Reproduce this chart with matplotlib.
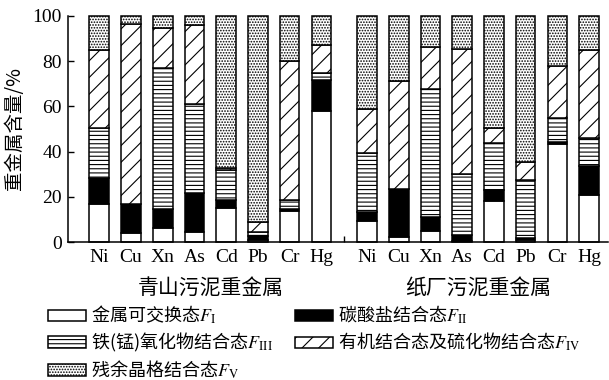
import numpy as np
import matplotlib.pyplot as plt

plt.rcParams['mathtext.fontset'] = 'stix'
plt.rcParams['hatch.linewidth'] = 0.8

cjk = ['Noto Sans CJK SC', 'DejaVu Sans']
serif = ['Liberation Serif', 'DejaVu Serif']

metals = ['Ni', 'Cu', 'Xn', 'As', 'Cd', 'Pb', 'Cr', 'Hg']
group_names = ['青山污泥重金属', '纸厂污泥重金属']

# 青山污泥 (%), F1..F5
qs_f1 = [17.0, 4.0, 6.2, 4.4, 15.1, 1.0, 14.0, 58.0]
qs_f2 = [11.2, 13.0, 8.4, 17.2, 3.6, 1.8, 0.6, 13.6]
qs_f3 = [22.4, 0.0, 62.4, 39.3, 13.2, 1.6, 4.1, 3.3]
qs_f4 = [34.3, 79.3, 17.4, 35.0, 1.1, 4.7, 61.3, 12.1]
qs_f5 = [15.1, 3.7, 5.6, 4.1, 67.0, 90.9, 20.0, 13.0]

# 纸厂污泥 (%), F1..F5
zc_f1 = [9.6, 2.2, 5.1, 0.5, 18.2, 1.0, 43.4, 20.9]
zc_f2 = [3.9, 21.2, 5.9, 2.7, 4.9, 1.0, 1.0, 12.8]
zc_f3 = [26.1, 0.0, 56.5, 26.8, 20.9, 25.5, 10.5, 12.2]
zc_f4 = [19.1, 47.8, 18.8, 55.3, 6.6, 7.8, 22.9, 39.0]
zc_f5 = [41.3, 28.8, 13.7, 14.7, 49.4, 64.7, 22.2, 15.1]

labels = ['金属可交换态$F_{\\mathrm{I}}$',
          '碳酸盐结合态$F_{\\mathrm{II}}$',
          '铁(锰)氧化物结合态$F_{\\mathrm{III}}$',
          '有机结合态及硫化物结合态$F_{\\mathrm{IV}}$',
          '残余晶格结合态$F_{\\mathrm{V}}$']
faces = ['white', 'black', 'white', 'white', 'white']
hatches = [None, None, '----', '//', '......']

fig = plt.figure(figsize=(6.09, 3.8), dpi=100)
ax = fig.add_axes([0.111, 0.3624, 0.887, 0.5963])

gap = 1.44
pos_qs = np.arange(8)
pos_zc = np.arange(8) + 7 + gap

handles = []
for pos, series in [(pos_qs, [qs_f1, qs_f2, qs_f3, qs_f4, qs_f5]),
                    (pos_zc, [zc_f1, zc_f2, zc_f3, zc_f4, zc_f5])]:
    bottom = np.zeros(8)
    hs = []
    for vals, fc, h, lab in zip(series, faces, hatches, labels):
        b = ax.bar(pos, vals, bottom=bottom, width=0.62, facecolor=fc,
                   edgecolor='black', hatch=h, linewidth=1.1, clip_on=False,
                   label=lab)
        hs.append(b)
        bottom = bottom + np.array(vals)
    handles = hs

ax.set_xlim(-1.0, pos_zc[-1] + 0.59)
ax.set_ylim(0, 100)
ax.spines['top'].set_visible(False)
ax.spines['right'].set_visible(False)
for s in ['left', 'bottom']:
    ax.spines[s].set_linewidth(1.1)

ax.set_yticks([0, 20, 40, 60, 80, 100])
ax.tick_params(axis='y', direction='in', length=4, width=1.0, pad=4)
ax.set_xticks(np.concatenate([pos_qs, pos_zc]))
ax.set_xticklabels(metals + metals)
ax.tick_params(axis='x', length=0, pad=5)
ax.set_xticks([(pos_qs[-1] + pos_zc[0]) / 2], minor=True)
ax.tick_params(axis='x', which='minor', direction='in', length=4, width=1.0)
for t in ax.get_xticklabels() + ax.get_yticklabels():
    t.set_family(serif)
    t.set_fontsize(14)

ax.set_ylabel('重金属含量/%', family=cjk, fontsize=14)
ax.yaxis.set_label_coords(-0.078, 0.5)

for pos, name in [(pos_qs, group_names[0]), (pos_zc, group_names[1])]:
    ax.text(pos.mean(), -0.20, name, transform=ax.get_xaxis_transform(),
            ha='center', va='center', family=cjk, fontsize=15)

order = [0, 2, 4, 1, 3]
leg = fig.legend([handles[i] for i in order], [labels[i] for i in order],
                 loc='upper left', bbox_to_anchor=(0.079, 0.2), ncol=2,
                 frameon=False, prop={'family': cjk, 'size': 13},
                 handlelength=2.1, handleheight=0.6, handletextpad=0.3,
                 columnspacing=1.2, labelspacing=0.25, borderpad=0,
                 borderaxespad=0)

fig.savefig('out.png', dpi=100)
